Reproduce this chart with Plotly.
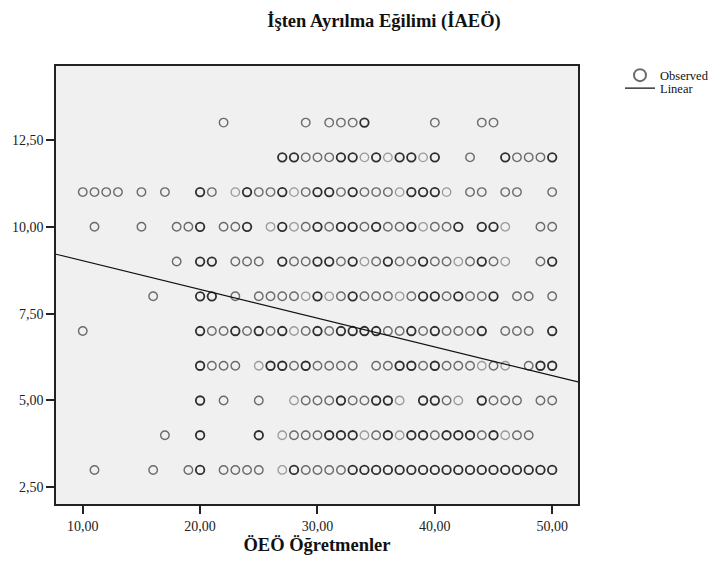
import plotly.graph_objects as go

# ---- data: x values (ÖEÖ Öğretmenler) per y level (İAEÖ) and number of overlapping cases ----
y_levels = [13, 12, 11, 10, 9, 8, 7, 6, 5, 4, 3]

x_y13 = [22, 29, 31, 32, 33, 34, 40, 44, 45]
n_y13 = [2, 2, 2, 2, 2, 3, 2, 2, 2]

x_y12 = [27, 28, 29, 30, 31, 32, 33, 34, 35, 36, 37, 38, 39, 40, 43, 46, 47, 48, 49, 50]
n_y12 = [3, 3, 2, 2, 2, 3, 3, 1, 3, 1, 3, 3, 1, 3, 2, 3, 2, 2, 2, 3]

x_y11 = [10, 11, 12, 13, 15, 17, 20, 21, 23, 24, 25, 26, 27, 28, 29, 30, 31, 32, 33, 34, 35, 36,
         37, 38, 39, 40, 41, 43, 44, 46, 47, 50]
n_y11 = [2, 2, 2, 2, 2, 2, 3, 2, 1, 3, 2, 2, 3, 1, 2, 3, 3, 2, 3, 2, 2, 2,
         1, 3, 3, 3, 1, 2, 2, 2, 2, 2]

x_y10 = [11, 15, 18, 19, 20, 22, 23, 24, 26, 27, 28, 29, 30, 31, 32, 33, 34, 35, 36, 37, 38, 39,
         40, 41, 42, 44, 45, 46, 49, 50]
n_y10 = [2, 2, 2, 2, 3, 2, 2, 3, 1, 3, 1, 2, 3, 2, 3, 3, 2, 3, 2, 2, 3, 1,
         2, 2, 3, 3, 3, 1, 2, 2]

x_y9 = [18, 20, 21, 23, 24, 25, 27, 28, 29, 30, 31, 32, 33, 34, 35, 36, 37, 38, 39, 40, 41, 42,
        43, 44, 45, 46, 49, 50]
n_y9 = [2, 3, 3, 2, 2, 2, 3, 2, 2, 3, 3, 2, 3, 1, 2, 3, 2, 2, 3, 2, 2, 1,
        2, 3, 2, 1, 2, 3]

x_y8 = [16, 20, 21, 23, 25, 26, 27, 28, 29, 30, 31, 32, 33, 34, 35, 36, 37, 38, 39, 40, 41, 42,
        43, 44, 45, 47, 48, 50]
n_y8 = [2, 3, 3, 2, 2, 2, 2, 2, 1, 3, 1, 2, 3, 2, 2, 2, 1, 2, 3, 3, 2, 3,
        2, 2, 3, 2, 2, 2]

x_y7 = [10, 20, 21, 22, 23, 24, 25, 26, 27, 28, 29, 30, 31, 32, 33, 34, 35, 36, 37, 38, 39, 40,
        41, 42, 43, 44, 46, 47, 48, 50]
n_y7 = [2, 3, 2, 2, 3, 2, 3, 2, 3, 1, 2, 3, 2, 3, 3, 3, 3, 2, 2, 3, 2, 3,
        2, 2, 2, 3, 2, 2, 2, 3]

x_y6 = [20, 21, 22, 23, 25, 26, 27, 28, 29, 30, 31, 32, 33, 35, 36, 37, 38, 39, 40, 41, 42, 43,
        44, 45, 46, 48, 49, 50]
n_y6 = [3, 2, 2, 2, 1, 3, 3, 2, 3, 2, 2, 2, 2, 2, 2, 3, 3, 2, 3, 2, 2, 2,
        1, 2, 1, 2, 3, 3]

x_y5 = [20, 22, 25, 28, 29, 30, 31, 32, 33, 34, 35, 36, 37, 39, 40, 41, 42, 44, 45, 46, 47, 49, 50]
n_y5 = [3, 2, 2, 1, 2, 2, 2, 3, 2, 2, 3, 3, 1, 3, 3, 2, 1, 3, 2, 2, 2, 2, 2]

x_y4 = [17, 20, 25, 27, 28, 29, 30, 31, 32, 33, 34, 35, 36, 37, 38, 39, 40, 41, 42, 43, 44, 45,
        46, 47, 48]
n_y4 = [2, 3, 3, 1, 2, 2, 2, 3, 3, 3, 1, 2, 3, 1, 3, 3, 2, 3, 3, 3, 2, 3,
        1, 2, 2]

x_y3 = [11, 16, 19, 20, 22, 23, 24, 25, 27, 28, 29, 30, 31, 32, 33, 34, 35, 36, 37, 38, 39, 40,
        41, 42, 43, 44, 45, 46, 47, 48, 49, 50]
n_y3 = [2, 2, 2, 3, 2, 2, 2, 2, 1, 3, 2, 2, 2, 2, 3, 3, 3, 3, 3, 3, 3, 3,
        3, 3, 3, 3, 3, 3, 3, 3, 3, 3]

# fitted linear line: y = intercept + slope * x
fit_intercept = 9.85
fit_slope = -0.0827

x_ticks = [10, 20, 30, 40, 50]
y_ticks = [2.5, 5.0, 7.5, 10.0, 12.5]
x_range = [7.72, 52.2]
y_range = [2.02, 14.63]

title_text = "İşten Ayrılma Eğilimi (İAEÖ)"
x_title = "ÖEÖ Öğretmenler"

# ---- assemble ----
rows_x = [x_y13, x_y12, x_y11, x_y10, x_y9, x_y8, x_y7, x_y6, x_y5, x_y4, x_y3]
rows_n = [n_y13, n_y12, n_y11, n_y10, n_y9, n_y8, n_y7, n_y6, n_y5, n_y4, n_y3]

px, py, pn = [], [], []
for yv, xs, ns in zip(y_levels, rows_x, rows_n):
    for xv, nv in zip(xs, ns):
        px.append(xv)
        py.append(yv)
        pn.append(nv)

shade = {1: "#9a9a9a", 2: "#6b6b6b", 3: "#2e2e2e"}
width = {1: 1.3, 2: 1.4, 3: 1.8}

serif = "Liberation Serif, Times New Roman, serif"

fig = go.Figure()
fig.add_trace(go.Scatter(
    x=px, y=py, mode="markers", name="Observed", legend="legend",
    marker=dict(symbol="circle-open", size=8.5,
                color=[shade[n] for n in pn],
                line=dict(width=[width[n] for n in pn], color=[shade[n] for n in pn])),
))
lx = [x_range[0], x_range[1]]
fig.add_trace(go.Scatter(
    x=lx, y=[fit_intercept + fit_slope * v for v in lx], mode="lines", name="Linear",
    legend="legend2",
    line=dict(color="#111111", width=1.2),
))

leg_common = dict(xref="container", yref="container", xanchor="left", yanchor="top",
                  font=dict(family=serif, size=12.5, color="#111111"),
                  bgcolor="rgba(0,0,0,0)")

fig.update_layout(
    width=713, height=561,
    margin=dict(l=56, r=135, t=66, b=57, autoexpand=False),
    paper_bgcolor="white", plot_bgcolor="#f0f0f0",
    separators=",.",
    font=dict(family=serif, color="#111111", size=13),
    title=dict(text="<b>" + title_text + "</b>", xref="container", yref="container",
               x=384 / 713, xanchor="center", y=1 - 21 / 561, yanchor="middle",
               font=dict(family=serif, size=18.5, color="#111111")),
    showlegend=True,
    legend=dict(x=620 / 713, y=1 - 60.5 / 561, itemsizing="constant", **leg_common),
    legend2=dict(x=620 / 713, y=1 - 73.5 / 561, itemsizing="trace", **leg_common),
    xaxis=dict(range=x_range, tickvals=x_ticks, tickformat=".2f",
               showgrid=False, zeroline=False,
               showline=True, mirror=True, linecolor="#222222", linewidth=1.5,
               ticks="outside", ticklen=8, tickwidth=1.5, tickcolor="#222222",
               tickfont=dict(family=serif, size=14, color="#222222"),
               title=dict(text="<b>" + x_title + "</b>", standoff=6,
                          font=dict(family=serif, size=18.5, color="#111111"))),
    yaxis=dict(range=y_range, tickvals=y_ticks, tickformat=".2f",
               showgrid=False, zeroline=False,
               showline=True, mirror=True, linecolor="#222222", linewidth=1.5,
               ticks="outside", ticklen=8, tickwidth=1.5, tickcolor="#222222",
               tickfont=dict(family=serif, size=14, color="#222222")),
)

fig.write_html("out.html")
